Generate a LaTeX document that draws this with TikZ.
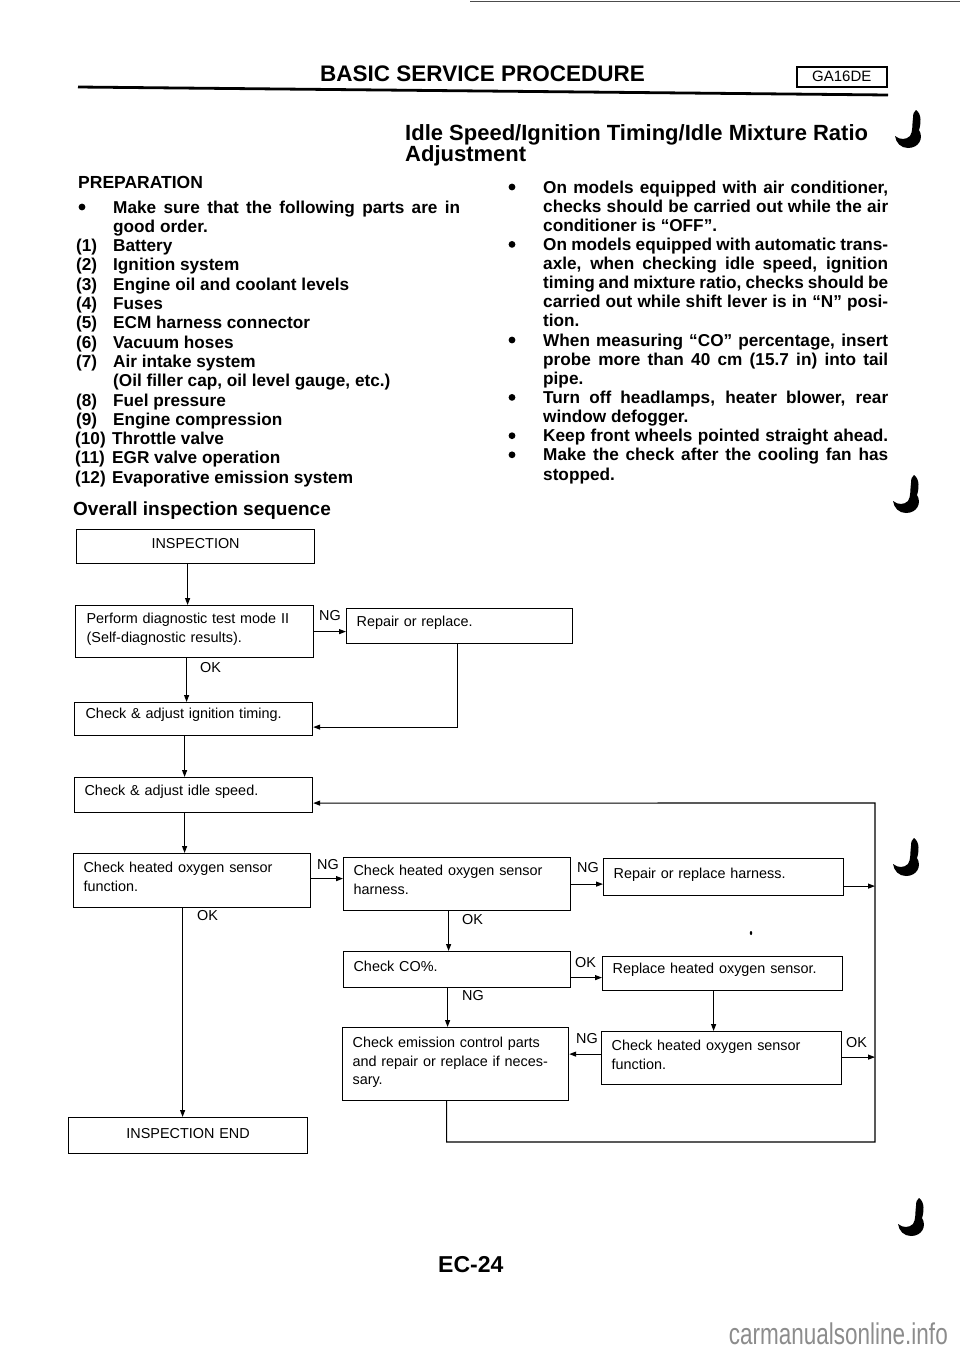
\documentclass[tikz,border=0pt]{standalone}
\usepackage{fontspec}
\setmainfont{Liberation Sans}
\usetikzlibrary{arrows.meta,calc}
\newcommand\ftext{\fontsize{14.4}{18.5}\selectfont}
\newcommand\fbody{\fontsize{17.2}{19.3}\selectfont\bfseries}
\newcommand\fheadA{\fontsize{17.5}{20}\selectfont\bfseries}
\newcommand\fheadB{\fontsize{19}{22}\selectfont\bfseries}
\newcommand\ftitle{\fontsize{22}{24}\selectfont\bfseries}
\newcommand\fbasic{\fontsize{22.5}{24}\selectfont\bfseries}
\begin{document}
\begin{tikzpicture}[x=1pt,y=-1pt,
  box/.style={draw, line width=1.2pt, anchor=north west, inner xsep=10pt, inner ysep=0pt, align=left, font=\ftext},
  lbl/.style={anchor=base west, inner sep=0pt, font=\ftext},
  con/.style={line width=1.1pt},
  arr/.style={con, -{Triangle[length=7pt,width=5pt]}},
  body/.style={anchor=base west, inner sep=0pt, font=\fbody},
  revmark/.pic={\fill (21,0) .. controls (27,4) and (26,14) .. (24,20) .. controls (29,28) and (24,38) .. (13,38) .. controls (6,38) and (1,33) .. (0,26) .. controls (5,30) and (11,30) .. (15,26) .. controls (18,22) and (17,14) .. (18,8) .. controls (18,4) and (19,1) .. (21,0) -- cycle;}
]
\fill[white] (0,0) rectangle (960,1358);
\useasboundingbox (0,0) rectangle (960,1358);

% top edge line
\draw[line width=1pt, black!70] (470,1.5) -- (960,1.5);

% ---------- header ----------
\node[anchor=base west, inner sep=0pt, font=\fbasic] (basic) at (320,81) {BASIC SERVICE PROCEDURE};
\node[draw, line width=1.6pt, anchor=north west, minimum width=90pt, minimum height=20pt, inner sep=0pt, font=\fontsize{15}{15}\selectfont] (ga) at (796,66) {GA16DE};
\draw[line width=2.8pt] (78,87) -- (888,95);

\node[anchor=base west, inner sep=0pt, font=\ftitle] (title1) at (405,140) {Idle Speed/Ignition Timing/Idle Mixture Ratio};
\node[anchor=base west, inner sep=0pt, font=\ftitle] (title2) at (405,161) {Adjustment};

% ---------- left column ----------
\node[anchor=base west, inner sep=0pt, font=\fheadA] (prep) at (78,188) {PREPARATION};
\fill (82,207) circle (3.4);
\node[body] (l0) at (113,213) {\makebox[347pt][s]{Make sure that the following parts are in}};
\node[body] (l1) at (113,232.3) {good order.};
\node[body] (n1) at (76,251.6) {(1)};  \node[body] (i1) at (113,251.6) {Battery};
\node[body] (n2) at (76,270.9) {(2)};  \node[body] (i2) at (113,270.9) {Ignition system};
\node[body] (n3) at (76,290.2) {(3)};  \node[body] (i3) at (113,290.2) {Engine oil and coolant levels};
\node[body] (n4) at (76,309.5) {(4)};  \node[body] (i4) at (113,309.5) {Fuses};
\node[body] (n5) at (76,328.8) {(5)};  \node[body] (i5) at (113,328.8) {ECM harness connector};
\node[body] (n6) at (76,348.1) {(6)};  \node[body] (i6) at (113,348.1) {Vacuum hoses};
\node[body] (n7) at (76,367.4) {(7)};  \node[body] (i7) at (113,367.4) {Air intake system};
\node[body] (i7b) at (113,386.7) {(Oil filler cap, oil level gauge, etc.)};
\node[body] (n8) at (76,406) {(8)};    \node[body] (i8) at (113,406) {Fuel pressure};
\node[body] (n9) at (76,425.3) {(9)};  \node[body] (i9) at (113,425.3) {Engine compression};
\node[body] (n10) at (75,444.6) {(10)}; \node[body] (i10) at (112,444.6) {Throttle valve};
\node[body] (n11) at (75,463.9) {(11)}; \node[body] (i11) at (112,463.9) {EGR valve operation};
\node[body] (n12) at (75,483.2) {(12)}; \node[body] (i12) at (112,483.2) {Evaporative emission system};
\node[anchor=base west, inner sep=0pt, font=\fheadB] (overall) at (73,515) {Overall inspection sequence};

% ---------- right column ----------
\fill (512,187) circle (3.4);
\fill (512,244.4) circle (3.4);
\fill (512,340) circle (3.4);
\fill (512,397.4) circle (3.4);
\fill (512,435.7) circle (3.4);
\fill (512,454.8) circle (3.4);
\node[body] (r0) at (543,193) {\makebox[345pt][s]{On models equipped with air conditioner,}};
\node[body] (r1) at (543,212.1) {\makebox[345pt][s]{checks should be carried out while the air}};
\node[body] (r2) at (543,231.3) {conditioner is “OFF”.};
\node[body] (r3) at (543,250.4) {\makebox[345pt][s]{On models equipped with automatic trans-}};
\node[body] (r4) at (543,269.5) {\makebox[345pt][s]{axle, when checking idle speed, ignition}};
\node[body] (r5) at (543,288.7) {\makebox[345pt][s]{timing and mixture ratio, checks should be}};
\node[body] (r6) at (543,307.8) {\makebox[345pt][s]{carried out while shift lever is in “N” posi-}};
\node[body] (r7) at (543,326.9) {tion.};
\node[body] (r8) at (543,346) {\makebox[345pt][s]{When measuring “CO” percentage, insert}};
\node[body] (r9) at (543,365.2) {\makebox[345pt][s]{probe more than 40 cm (15.7 in) into tail}};
\node[body] (r10) at (543,384.3) {pipe.};
\node[body] (r11) at (543,403.4) {\makebox[345pt][s]{Turn off headlamps, heater blower, rear}};
\node[body] (r12) at (543,422.6) {window defogger.};
\node[body] (r13) at (543,441.7) {\makebox[345pt][s]{Keep front wheels pointed straight ahead.}};
\node[body] (r14) at (543,460.8) {\makebox[345pt][s]{Make the check after the cooling fan has}};
\node[body] (r15) at (543,480) {stopped.};

% ---------- flowchart boxes ----------
\node[box, align=center, text width=218pt, text height=19pt, text depth=15pt] (Ins) at (76,529) {INSPECTION};
\node[box, text height=18pt, text depth=34pt, inner xsep=11pt, text width=216pt] (Perf) at (75,605) {Perform diagnostic test mode II\\(Self-diagnostic results).};
\node[box, text width=206pt, text height=18pt, text depth=17pt] (Rep) at (346,608) {Repair or replace.};
\node[box, text height=16pt, text depth=17pt, inner xsep=11pt, text width=216pt] (Ign) at (74,702) {Check \& adjust ignition timing.};
\node[box, text width=218pt, text height=18pt, text depth=17pt] (Idle) at (74,777) {Check \& adjust idle speed.};
\node[box, text width=217pt, text height=19pt, text depth=35pt] (A) at (73,853) {Check heated oxygen sensor\\function.};
\node[box, text width=207pt, text height=18pt, text depth=35pt] (B) at (343,857) {Check heated oxygen sensor\\harness.};
\node[box, text width=220pt, text height=20pt, text depth=17pt] (C) at (603,858) {Repair or replace harness.};
\node[box, text width=207pt, text height=20pt, text depth=16pt] (CO) at (343,951) {Check CO\%.};
\node[box, text width=220pt, text height=17pt, text depth=17pt] (D) at (602,956) {Replace heated oxygen sensor.};
\node[box, text width=206pt, text height=20pt, text depth=53pt] (Em) at (342,1027) {Check emission control parts\\and repair or replace if neces-\\sary.};
\node[box, text width=220pt, text height=19pt, text depth=34pt] (E) at (601,1031) {Check heated oxygen sensor\\function.};
\node[box, align=center, text width=219pt, text height=21pt, text depth=15pt] (End) at (68,1117) {INSPECTION END};

\coordinate (rt) at (875,803);
\coordinate (rb) at (875,1142);

% ---------- connectors ----------
\draw[arr] ([xshift=-8pt]Ins.south) -- ([xshift=-8pt]Ins.south |- Perf.north);
\draw[arr] (Perf.east) -- (Perf.east -| Rep.west);
\draw[arr] ([xshift=-8pt]Perf.south) -- ([xshift=-8pt]Perf.south |- Ign.north);
\draw[arr] ([xshift=-2pt]Rep.south) |- ([yshift=-8pt]Ign.east);
\draw[arr] ([xshift=-9pt]Ign.south) -- ([xshift=-9pt]Ign.south |- Idle.north);
\draw[arr] ([xshift=-9pt]Idle.south) -- ([xshift=-9pt]Idle.south |- A.north);
\draw[arr] ([yshift=2pt]A.east) -- ([yshift=2pt]A.east -| B.west);
\draw[arr] ([xshift=-9.5pt]A.south) -- ([xshift=-9.5pt]A.south |- End.north);
\draw[arr] (B.east) -- (B.east -| C.west);
\draw[arr] ([xshift=-8.5pt]B.south) -- ([xshift=-8.5pt]B.south |- CO.north);
\draw[arr] ([yshift=-9pt]C.east) -- ([yshift=-9pt]C.east -| rt);
\draw[arr] ([yshift=-8pt]CO.east) -- ([yshift=-8pt]CO.east -| D.west);
\draw[arr] ([xshift=-9.5pt]CO.south) -- ([xshift=-9.5pt]CO.south |- Em.north);
\draw[arr] ([xshift=-9pt]D.south) -- ([xshift=-9pt]D.south |- E.north);
\draw[arr] ([yshift=4pt]E.west) -- ([yshift=4pt]E.west -| Em.east);
\draw[arr] ([yshift=1pt]E.east) -- ([yshift=1pt]E.east -| rt);
\draw[arr] ([xshift=-9pt]Em.south) |- (rb) -- (rt) -- ([yshift=-8pt]Idle.east);

% ---------- labels ----------
\node[lbl] (ng1) at (319,620) {NG};
\node[lbl] (ok1) at (200,672) {OK};
\node[lbl] (ng2) at (317,869) {NG};
\node[lbl] (ok2) at (197,920) {OK};
\node[lbl] (ng3) at (577,872) {NG};
\node[lbl] (ok3) at (462,924) {OK};
\node[lbl] (ok4) at (575,967) {OK};
\node[lbl] (ng4) at (462,1000) {NG};
\node[lbl] (ng5) at (576,1043) {NG};
\node[lbl] (ok5) at (846,1047) {OK};

% speck
\fill (751,933) ellipse (1.2 and 2);

% ---------- revision marks ----------
\pic at (895,110) {revmark};
\pic at (893,475) {revmark};
\pic at (893,838) {revmark};
\pic at (898,1198) {revmark};

% ---------- footer ----------
\node[anchor=base west, inner sep=0pt, font=\fontsize{23}{24}\selectfont\bfseries] (page) at (438,1272) {EC-24};
\node[anchor=base east, inner sep=0pt, text=black!45, font=\fontsize{30}{30}\selectfont] (wm) at (948,1344) {\scalebox{0.75}[1]{carmanualsonline.info}};
\end{tikzpicture}
\end{document}
